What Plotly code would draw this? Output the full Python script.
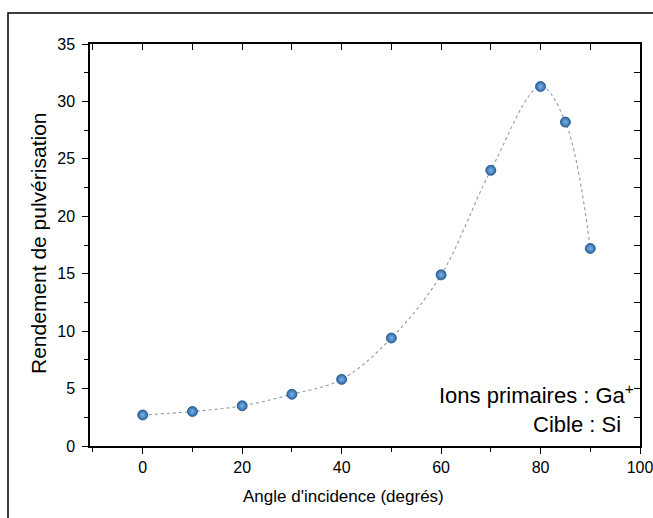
import plotly.graph_objects as go

angles = [0, 10, 20, 30, 40, 50, 60, 70, 80, 85, 90]
yields = [2.7, 3.0, 3.5, 4.5, 5.8, 9.4, 14.9, 24.0, 31.3, 28.2, 17.2]

W, H = 653, 518
L, R, T, B = 90, 13, 44, 72
pw, ph = W - L - R, H - T - B

def px2paper_x(px):
    return (px - L) / pw

def px2paper_y(py):
    return (H - B - py) / ph

font = "Liberation Sans, Arial, sans-serif"

fig = go.Figure()
fig.add_trace(go.Scatter(
    x=angles, y=yields, mode="lines",
    line=dict(shape="spline", smoothing=1.0, color="#8c9bab", width=1.1, dash="dot"),
    hoverinfo="skip", showlegend=False))
fig.add_trace(go.Scatter(
    x=angles, y=yields, mode="markers",
    marker=dict(size=10, color="#2a68a8",
                gradient=dict(type="radial", color="#80b4e4"),
                line=dict(width=0.8, color="#1d4f85")),
    showlegend=False))
# invisible trace for the mirrored axes
fig.add_trace(go.Scatter(x=[0], y=[0], xaxis="x2", yaxis="y2", mode="markers",
                         marker=dict(opacity=0), hoverinfo="skip", showlegend=False))

xr = [-10.6, 100]
yr = [0, 35]
fig.update_layout(
    width=W, height=H,
    margin=dict(l=L, r=R, t=T, b=B),
    paper_bgcolor="white", plot_bgcolor="white",
    font=dict(family=font, color="black", size=16),
    xaxis=dict(range=xr, tickmode="array", tickvals=[0, 20, 40, 60, 80, 100],
               ticks="outside", ticklen=6, tickwidth=1.2, tickcolor="black",
               minor=dict(tickvals=[-10, 10, 30, 50, 70, 90], ticks="outside", ticklen=4, tickwidth=1.2, tickcolor="black"),
               showline=True, linecolor="black", linewidth=1.5, showgrid=False, zeroline=False,
               tickfont=dict(size=16), automargin=False, ticklabeloverflow="allow"),
    yaxis=dict(range=yr, tickmode="array", tickvals=[0, 5, 10, 15, 20, 25, 30, 35],
               ticks="outside", ticklen=6, tickwidth=1.2, tickcolor="black",
               minor=dict(tickvals=[2.5, 7.5, 12.5, 17.5, 22.5, 27.5, 32.5], ticks="outside", ticklen=4, tickwidth=1.2, tickcolor="black"),
               showline=True, linecolor="black", linewidth=1.5, showgrid=False, zeroline=False,
               tickfont=dict(size=16), automargin=False, ticklabelstandoff=4),
    xaxis2=dict(range=xr, overlaying="x", side="top", tickmode="array",
                tickvals=[-10, 0, 10, 20, 30, 40, 50, 60, 70, 80, 90, 100],
                ticks="inside", ticklen=6, tickwidth=1.2, tickcolor="black",
                showticklabels=False, showline=True, linecolor="black", linewidth=1.5,
                showgrid=False, zeroline=False, automargin=False),
    yaxis2=dict(range=yr, overlaying="y", side="right", tickmode="array",
                tickvals=[2.5 * i for i in range(15)],
                ticks="inside", ticklen=6, tickwidth=1.2, tickcolor="black",
                showticklabels=False, showline=True, linecolor="black", linewidth=1.5,
                showgrid=False, zeroline=False, automargin=False),
    annotations=[
        dict(text="Ions primaires : Ga<sup>+</sup>", xref="paper", yref="paper",
             x=px2paper_x(636), y=px2paper_y(394), xanchor="right", yanchor="middle",
             showarrow=False, font=dict(size=22, family=font)),
        dict(text="Cible : Si", xref="paper", yref="paper",
             x=px2paper_x(623), y=px2paper_y(424), xanchor="right", yanchor="middle",
             showarrow=False, font=dict(size=22, family=font)),
        dict(text="Angle d'incidence (degrés)", xref="paper", yref="paper",
             x=px2paper_x(343), y=px2paper_y(496), xanchor="center", yanchor="middle",
             showarrow=False, font=dict(size=17, family=font)),
        dict(text="Rendement de pulvérisation", xref="paper", yref="paper",
             x=px2paper_x(38), y=px2paper_y(243), xanchor="center", yanchor="middle",
             textangle=-90, showarrow=False, font=dict(size=21, family=font)),
    ],
    shapes=[
        dict(type="rect", xref="paper", yref="paper",
             x0=px2paper_x(8), x1=px2paper_x(700), y0=px2paper_y(560), y1=px2paper_y(13),
             line=dict(color="black", width=1.5), layer="above"),
    ],
)

fig.write_html("out.html")
